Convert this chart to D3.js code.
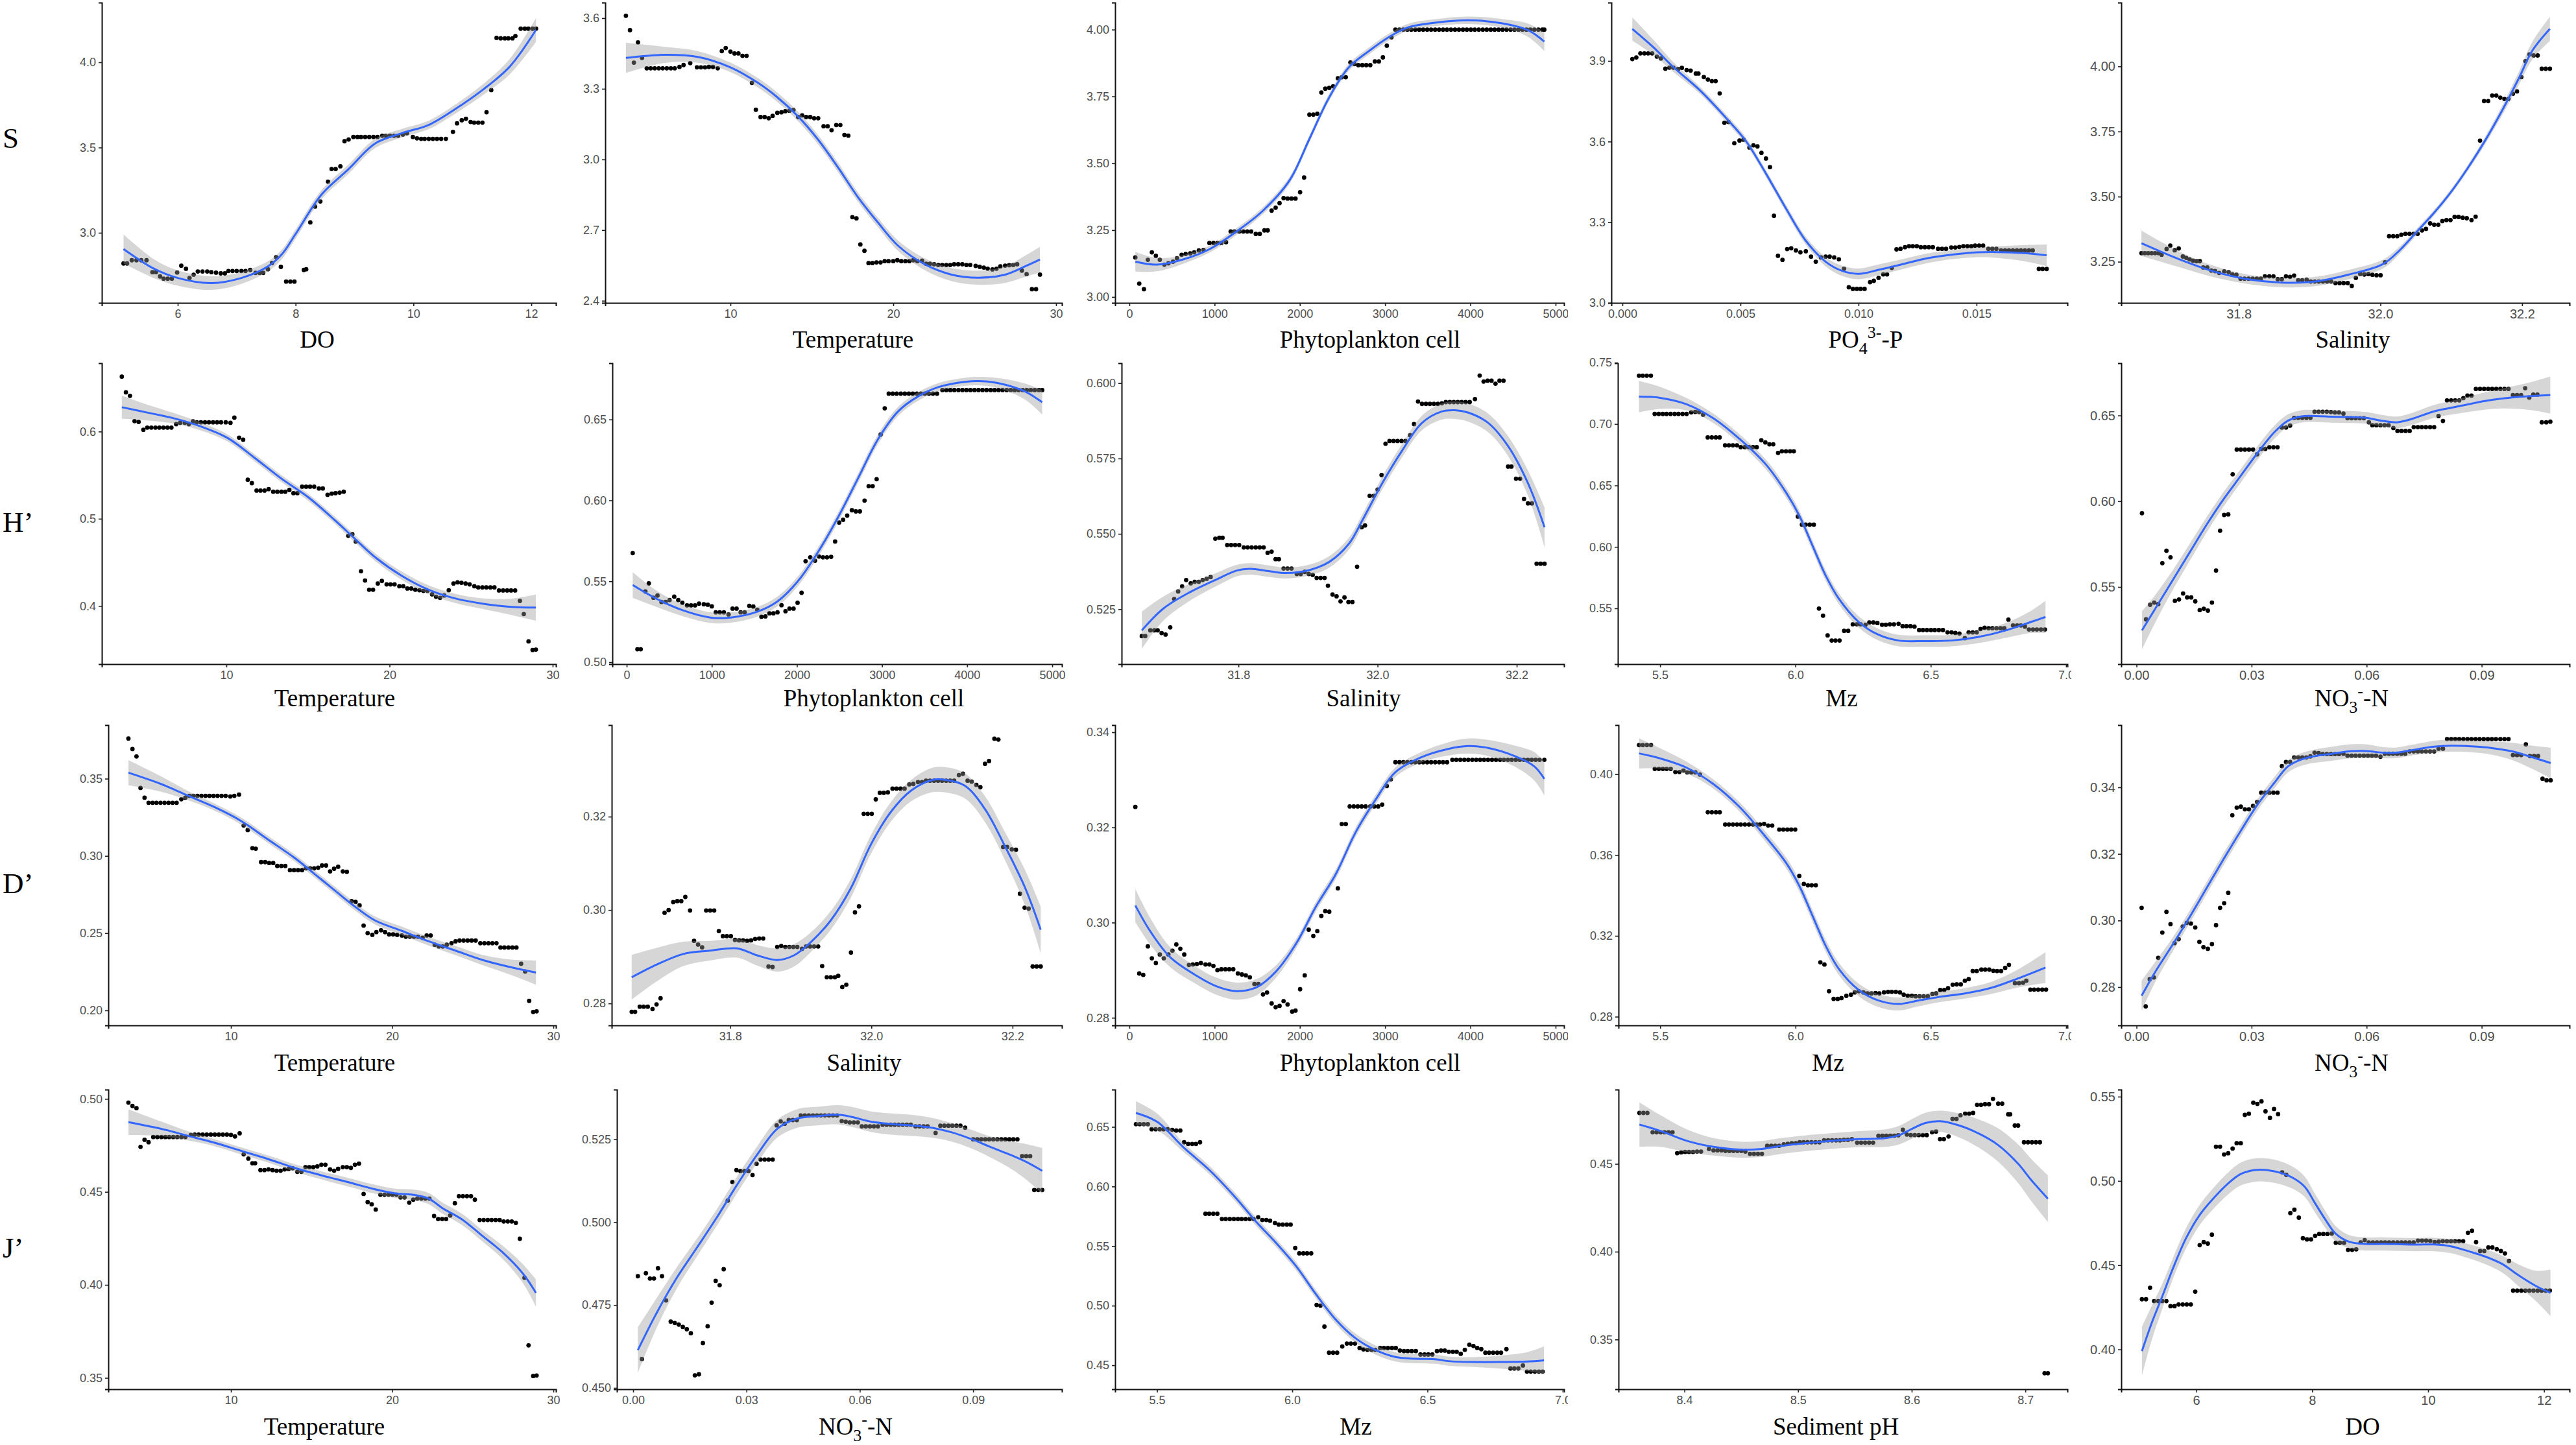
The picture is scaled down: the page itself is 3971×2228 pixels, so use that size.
<!DOCTYPE html>
<html>
<head>
<meta charset="utf-8">
<script src="https://cdn.jsdelivr.net/npm/d3@7"></script>
<style>
  body { margin: 0; background: #fff; }
  svg { display: block; }
  .tick text { font-family: "Liberation Sans", Arial, sans-serif; fill: #4d4d4d; }
  .axis path { stroke: #111; stroke-width: 2; }
  .axis line { stroke: #222; stroke-width: 1.6; }
  .xtitle, .rowlab { font-family: "Liberation Serif", "Times New Roman", serif; fill: #000; }
</style>
</head>
<body>
<div id="chart"></div>
<script>
// ---------- data: S (row 1) ----------
const s_do = [[5.08,2.82],[5.14,2.82],[5.22,2.839],[5.30,2.839],[5.38,2.839],[5.47,2.839],[5.57,2.769],[5.63,2.769],[5.70,2.744],[5.76,2.731],[5.83,2.731],[5.90,2.731],[5.99,2.767],[6.06,2.807],[6.14,2.789],[6.20,2.735],[6.27,2.754],[6.34,2.773],[6.42,2.773],[6.50,2.773],[6.57,2.769],[6.65,2.766],[6.73,2.762],[6.80,2.762],[6.86,2.776],[6.93,2.776],[7.00,2.776],[7.08,2.776],[7.15,2.776],[7.23,2.782],[7.32,2.765],[7.39,2.765],[7.45,2.765],[7.53,2.786],[7.60,2.823],[7.67,2.857],[7.75,2.80],[7.84,2.714],[7.91,2.714],[7.98,2.714],[8.14,2.782],[8.18,2.786],[8.25,3.061],[8.33,3.154],[8.42,3.184],[8.55,3.30],[8.61,3.374],[8.68,3.374],[8.76,3.39],[8.83,3.537],[8.90,3.547],[8.98,3.562],[9.05,3.562],[9.11,3.562],[9.18,3.562],[9.25,3.562],[9.32,3.562],[9.39,3.562],[9.47,3.569],[9.53,3.569],[9.60,3.569],[9.67,3.569],[9.74,3.569],[9.82,3.576],[9.89,3.584],[9.99,3.562],[10.06,3.554],[10.13,3.551],[10.19,3.551],[10.26,3.551],[10.33,3.551],[10.40,3.551],[10.47,3.551],[10.55,3.551],[10.67,3.592],[10.74,3.642],[10.82,3.66],[10.89,3.669],[10.97,3.65],[11.03,3.646],[11.10,3.646],[11.17,3.646],[11.24,3.707],[11.32,3.837],[11.41,4.143],[11.48,4.14],[11.55,4.14],[11.61,4.14],[11.68,4.14],[11.73,4.154],[11.82,4.197],[11.89,4.197],[11.95,4.197],[12.02,4.197],[12.08,4.197]];
const s_do_fit = [[5.08,2.905,0.085],[5.6,2.789,0.055],[6.0,2.735,0.045],[6.57,2.705,0.04],[7.08,2.735,0.035],[7.53,2.803,0.03],[7.76,2.871,0.028],[8.0,2.993,0.027],[8.44,3.224,0.027],[8.9,3.374,0.027],[9.35,3.524,0.027],[9.81,3.585,0.025],[10.26,3.633,0.025],[10.72,3.728,0.027],[11.17,3.837,0.032],[11.63,3.973,0.045],[12.08,4.19,0.07]];

const s_temp = [[3.58,3.61],[3.83,3.549],[4.07,3.411],[4.32,3.497],[4.57,3.431],[4.86,3.387],[5.10,3.387],[5.35,3.387],[5.60,3.387],[5.84,3.387],[6.09,3.387],[6.34,3.387],[6.58,3.387],[6.87,3.393],[7.12,3.401],[7.53,3.409],[7.94,3.391],[8.19,3.391],[8.44,3.391],[8.68,3.393],[8.93,3.393],[9.22,3.387],[9.47,3.46],[9.71,3.473],[10.0,3.458],[10.25,3.45],[10.49,3.45],[10.74,3.44],[10.99,3.44],[11.32,3.325],[11.56,3.211],[11.85,3.18],[12.10,3.18],[12.35,3.175],[12.59,3.185],[12.88,3.198],[13.13,3.2],[13.37,3.205],[13.62,3.207],[13.87,3.21],[14.16,3.18],[14.40,3.187],[14.65,3.18],[14.90,3.18],[15.14,3.175],[15.39,3.175],[15.72,3.141],[15.97,3.141],[16.21,3.124],[16.5,3.146],[16.75,3.146],[17.0,3.104],[17.24,3.101],[17.49,2.755],[17.74,2.75],[17.98,2.639],[18.23,2.612],[18.48,2.56],[18.72,2.56],[18.97,2.563],[19.22,2.563],[19.47,2.568],[19.71,2.568],[20.0,2.568],[20.25,2.572],[20.49,2.568],[20.74,2.568],[20.99,2.568],[21.23,2.572],[21.48,2.568],[21.77,2.57],[22.02,2.557],[22.26,2.557],[22.51,2.555],[22.76,2.552],[23.0,2.552],[23.25,2.552],[23.5,2.552],[23.74,2.555],[23.99,2.555],[24.24,2.555],[24.49,2.552],[24.73,2.552],[25.06,2.548],[25.31,2.544],[25.56,2.541],[25.8,2.536],[26.09,2.533],[26.34,2.536],[26.58,2.546],[26.87,2.549],[27.12,2.551],[27.37,2.552],[27.61,2.555],[27.9,2.528],[28.19,2.513],[28.52,2.449],[28.77,2.449],[29.01,2.511]];
const s_temp_fit = [[3.58,3.431,0.064],[5.88,3.444,0.035],[7.94,3.436,0.025],[10.0,3.391,0.02],[11.65,3.327,0.02],[12.88,3.264,0.02],[14.12,3.185,0.02],[15.35,3.087,0.02],[16.58,2.969,0.02],[17.82,2.841,0.02],[19.05,2.733,0.02],[20.29,2.634,0.022],[21.93,2.555,0.025],[23.58,2.511,0.028],[25.23,2.498,0.03],[26.87,2.511,0.035],[28.1,2.546,0.045],[29.01,2.575,0.054]];

const s_phyto = [[70,3.148],[116,3.05],[171,3.029],[217,3.139],[264,3.167],[311,3.154],[357,3.139],[411,3.121],[458,3.126],[512,3.132],[559,3.145],[613,3.158],[660,3.161],[714,3.163],[761,3.167],[815,3.174],[870,3.176],[939,3.202],[986,3.202],[1033,3.202],[1079,3.202],[1134,3.205],[1188,3.245],[1234,3.245],[1289,3.245],[1335,3.245],[1382,3.245],[1429,3.245],[1483,3.236],[1530,3.236],[1584,3.249],[1623,3.249],[1669,3.323],[1716,3.334],[1762,3.351],[1809,3.37],[1856,3.368],[1902,3.368],[1949,3.368],[2003,3.392],[2050,3.447],[2112,3.682],[2158,3.682],[2205,3.685],[2252,3.765],[2298,3.779],[2345,3.782],[2391,3.788],[2446,3.818],[2492,3.822],[2539,3.822],[2593,3.877],[2640,3.871],[2686,3.867],[2733,3.867],[2779,3.867],[2826,3.867],[2880,3.881],[2927,3.881],[2974,3.896],[3020,3.94],[3075,3.971],[3121,4.0],[3168,4.0],[3214,4.0],[3261,4.0],[3307,4.0],[3354,4.0],[3400,4.0],[3447,4.0],[3494,4.0],[3540,4.0],[3587,4.0],[3633,4.0],[3680,4.0],[3726,4.0],[3773,4.0],[3820,4.0],[3866,4.0],[3913,4.0],[3959,4.0],[4006,4.0],[4052,4.0],[4099,4.0],[4146,4.0],[4192,4.0],[4239,4.0],[4285,4.0],[4332,4.0],[4378,4.0],[4425,4.0],[4472,4.0],[4518,4.0],[4565,4.0],[4611,4.0],[4658,4.0],[4704,4.0],[4751,4.0],[4798,4.0],[4844,4.0],[4868,4.0]];
const s_phyto_fit = [[70,3.132,0.037],[326,3.121,0.025],[637,3.141,0.016],[947,3.18,0.013],[1258,3.245,0.013],[1568,3.323,0.013],[1879,3.436,0.013],[2112,3.591,0.013],[2345,3.747,0.013],[2578,3.86,0.013],[2811,3.92,0.013],[3044,3.972,0.013],[3276,4.009,0.013],[3587,4.026,0.013],[3975,4.035,0.014],[4363,4.024,0.016],[4674,3.998,0.025],[4868,3.955,0.035]];

const s_po4 = [[0.00042,3.907],[0.00059,3.913],[0.00076,3.928],[0.00093,3.928],[0.00109,3.928],[0.00126,3.928],[0.00146,3.916],[0.00163,3.909],[0.00182,3.871],[0.00199,3.875],[0.00216,3.875],[0.00236,3.87],[0.00252,3.874],[0.00272,3.866],[0.00289,3.864],[0.00311,3.853],[0.00322,3.853],[0.00345,3.84],[0.00362,3.831],[0.00379,3.825],[0.00395,3.825],[0.00412,3.779],[0.00432,3.67],[0.00449,3.673],[0.00474,3.594],[0.00496,3.604],[0.00513,3.607],[0.00538,3.578],[0.00555,3.586],[0.00572,3.582],[0.00589,3.558],[0.00608,3.537],[0.00625,3.505],[0.00642,3.324],[0.00659,3.175],[0.00678,3.16],[0.00698,3.2],[0.00715,3.203],[0.00735,3.195],[0.00754,3.188],[0.00777,3.192],[0.00799,3.172],[0.00819,3.153],[0.00841,3.169],[0.00861,3.172],[0.00878,3.172],[0.00897,3.169],[0.00917,3.162],[0.00939,3.127],[0.00959,3.058],[0.00976,3.052],[0.00993,3.052],[0.01009,3.052],[0.01026,3.052],[0.01049,3.077],[0.01065,3.082],[0.01085,3.093],[0.01105,3.106],[0.01121,3.106],[0.01141,3.13],[0.01161,3.199],[0.01178,3.201],[0.01197,3.207],[0.01214,3.211],[0.0123,3.211],[0.01247,3.211],[0.01264,3.207],[0.01281,3.207],[0.01298,3.207],[0.01315,3.207],[0.01337,3.201],[0.01354,3.201],[0.01371,3.201],[0.01393,3.206],[0.0141,3.206],[0.01427,3.208],[0.01444,3.211],[0.01461,3.211],[0.01478,3.211],[0.01494,3.213],[0.01511,3.213],[0.01528,3.213],[0.0155,3.201],[0.01567,3.201],[0.01584,3.201],[0.01604,3.195],[0.01621,3.195],[0.01637,3.195],[0.01654,3.195],[0.01671,3.195],[0.01688,3.195],[0.01705,3.195],[0.01722,3.195],[0.01738,3.195],[0.01764,3.126],[0.0178,3.126],[0.01797,3.126]];
const s_po4_fit = [[0.00042,4.019,0.043],[0.00132,3.95,0.028],[0.00216,3.877,0.018],[0.00328,3.791,0.013],[0.0044,3.687,0.013],[0.00524,3.601,0.013],[0.00608,3.481,0.013],[0.00693,3.351,0.014],[0.00777,3.231,0.015],[0.00861,3.153,0.017],[0.00931,3.119,0.019],[0.01001,3.108,0.02],[0.01085,3.123,0.02],[0.01169,3.14,0.019],[0.01281,3.164,0.018],[0.01393,3.179,0.017],[0.01506,3.188,0.018],[0.0159,3.189,0.022],[0.01702,3.185,0.03],[0.01797,3.177,0.04]];

const s_sal = [[31.6625,3.283],[31.6673,3.283],[31.672,3.283],[31.6769,3.283],[31.6817,3.283],[31.6865,3.283],[31.691,3.277],[31.698,3.299],[31.7032,3.312],[31.7095,3.294],[31.7152,3.301],[31.721,3.27],[31.7257,3.265],[31.7305,3.259],[31.7353,3.254],[31.74,3.252],[31.7449,3.252],[31.7497,3.228],[31.7554,3.228],[31.7612,3.216],[31.7665,3.214],[31.7722,3.207],[31.7794,3.213],[31.7856,3.21],[31.7909,3.201],[31.7966,3.2],[31.8024,3.185],[31.8081,3.185],[31.8139,3.185],[31.8196,3.185],[31.8254,3.185],[31.8311,3.185],[31.8369,3.194],[31.8431,3.194],[31.8489,3.194],[31.855,3.183],[31.8608,3.183],[31.8666,3.194],[31.8723,3.192],[31.8781,3.197],[31.8838,3.179],[31.8896,3.179],[31.8958,3.181],[31.9016,3.174],[31.9073,3.174],[31.913,3.174],[31.9188,3.174],[31.9246,3.174],[31.9303,3.174],[31.9365,3.168],[31.9423,3.168],[31.948,3.168],[31.9538,3.168],[31.9595,3.157],[31.9653,3.188],[31.9715,3.203],[31.9772,3.201],[31.983,3.203],[31.9887,3.2],[31.9945,3.198],[32.0002,3.198],[32.0065,3.248],[32.0122,3.348],[32.018,3.348],[32.0237,3.348],[32.0295,3.354],[32.0352,3.357],[32.041,3.357],[32.0467,3.357],[32.0525,3.357],[32.0587,3.37],[32.0644,3.376],[32.0702,3.397],[32.0759,3.392],[32.0817,3.392],[32.0874,3.406],[32.0932,3.41],[32.0989,3.41],[32.1047,3.422],[32.1104,3.422],[32.1162,3.419],[32.1219,3.417],[32.1286,3.41],[32.1344,3.423],[32.1406,3.715],[32.1463,3.867],[32.1521,3.867],[32.1578,3.888],[32.1636,3.888],[32.1693,3.88],[32.1751,3.875],[32.1808,3.875],[32.1871,3.895],[32.1928,3.904],[32.199,3.959],[32.2048,4.02],[32.2105,4.046],[32.2163,4.042],[32.222,4.042],[32.2278,3.991],[32.2335,3.991],[32.2393,3.991]];
const s_sal_fit = [[31.6625,3.321,0.049],[31.7162,3.259,0.03],[31.764,3.213,0.022],[31.812,3.183,0.018],[31.8599,3.17,0.018],[31.9078,3.174,0.018],[31.9557,3.201,0.018],[32.0036,3.241,0.017],[32.0275,3.295,0.014],[32.0515,3.366,0.012],[32.0754,3.437,0.011],[32.0994,3.517,0.011],[32.1234,3.61,0.012],[32.1473,3.713,0.014],[32.1713,3.828,0.018],[32.1952,3.953,0.025],[32.2144,4.06,0.034],[32.2393,4.144,0.046]];

// ---------- data: H' (row 2) ----------
const h_temp = [[3.59,0.663],[3.84,0.645],[4.09,0.641],[4.37,0.612],[4.62,0.611],[4.91,0.602],[5.15,0.6045],[5.40,0.6045],[5.65,0.6045],[5.89,0.6045],[6.14,0.6045],[6.39,0.6045],[6.63,0.6045],[6.92,0.6085],[7.17,0.61],[7.45,0.61],[7.70,0.6085],[7.95,0.6117],[8.19,0.6106],[8.44,0.6106],[8.69,0.6106],[8.93,0.6106],[9.18,0.6106],[9.43,0.6106],[9.67,0.6106],[9.96,0.6106],[10.25,0.61],[10.49,0.616],[10.78,0.593],[11.03,0.5907],[11.31,0.5448],[11.56,0.5408],[11.85,0.5323],[12.09,0.5323],[12.34,0.5323],[12.59,0.534],[12.87,0.531],[13.12,0.531],[13.37,0.531],[13.61,0.531],[13.86,0.533],[14.11,0.5293],[14.35,0.5293],[14.64,0.5368],[14.89,0.5368],[15.13,0.5368],[15.38,0.5368],[15.67,0.5347],[15.91,0.5347],[16.2,0.5275],[16.45,0.5288],[16.69,0.5293],[16.94,0.53],[17.19,0.531],[17.47,0.4805],[17.72,0.4823],[17.93,0.4738],[18.25,0.4398],[18.5,0.4292],[18.75,0.4186],[18.99,0.4186],[19.28,0.4258],[19.53,0.4287],[19.82,0.4247],[20.06,0.4247],[20.31,0.4247],[20.6,0.4226],[20.84,0.4226],[21.09,0.42],[21.33,0.42],[21.58,0.4186],[21.83,0.418],[22.07,0.4173],[22.32,0.4173],[22.61,0.4133],[22.85,0.4106],[23.10,0.4093],[23.35,0.412],[23.63,0.418],[23.92,0.4258],[24.17,0.4271],[24.41,0.4266],[24.66,0.4258],[24.91,0.4247],[25.2,0.4226],[25.44,0.4213],[25.69,0.4213],[25.93,0.4213],[26.18,0.4213],[26.43,0.4213],[26.71,0.4178],[26.96,0.4178],[27.21,0.4178],[27.45,0.4178],[27.7,0.4178],[27.99,0.4058],[28.23,0.3907],[28.52,0.3594],[28.77,0.3495],[28.97,0.35]];
const h_temp_fit = [[3.59,0.6279,0.0133],[5.15,0.6218,0.009],[6.8,0.6151,0.006],[8.44,0.6058,0.0045],[10.08,0.5926,0.004],[11.72,0.57,0.004],[13.37,0.5461,0.004],[15.01,0.5248,0.004],[16.65,0.4983,0.004],[17.88,0.477,0.0042],[19.12,0.4558,0.0045],[20.76,0.4345,0.0047],[22.4,0.4186,0.005],[24.05,0.4085,0.0053],[25.69,0.4027,0.006],[27.33,0.3992,0.009],[28.97,0.3981,0.015]];

const h_phyto = [[71,0.5674],[126,0.508],[165,0.508],[220,0.5437],[260,0.5487],[315,0.5398],[362,0.5412],[409,0.5372],[457,0.5372],[504,0.5384],[559,0.5405],[606,0.5384],[654,0.5367],[709,0.5351],[756,0.5351],[803,0.5351],[850,0.5362],[906,0.5358],[953,0.5355],[1000,0.5345],[1047,0.5308],[1094,0.5308],[1142,0.5308],[1197,0.5295],[1244,0.5331],[1291,0.5331],[1339,0.5308],[1386,0.5308],[1441,0.5348],[1488,0.5344],[1535,0.5324],[1583,0.5281],[1630,0.5283],[1677,0.5302],[1724,0.5302],[1772,0.5308],[1819,0.5352],[1866,0.5315],[1913,0.5331],[1961,0.5331],[2008,0.5367],[2055,0.5429],[2102,0.5624],[2157,0.5648],[2213,0.5627],[2260,0.5653],[2307,0.5648],[2354,0.5648],[2402,0.5651],[2449,0.5746],[2496,0.5863],[2543,0.588],[2591,0.5906],[2646,0.5939],[2693,0.5932],[2740,0.5932],[2795,0.5999],[2843,0.6088],[2890,0.6088],[2937,0.6131],[2984,0.6407],[3032,0.6569],[3079,0.666],[3126,0.666],[3173,0.666],[3221,0.666],[3268,0.666],[3315,0.666],[3362,0.666],[3410,0.666],[3457,0.666],[3504,0.666],[3551,0.666],[3598,0.666],[3646,0.666],[3709,0.6682],[3756,0.6682],[3803,0.6682],[3850,0.6682],[3898,0.6682],[3945,0.6682],[3992,0.6682],[4039,0.6682],[4087,0.6682],[4134,0.6682],[4181,0.6682],[4228,0.6682],[4276,0.6682],[4323,0.6682],[4370,0.6682],[4417,0.6682],[4465,0.6682],[4512,0.6682],[4559,0.6682],[4606,0.6682],[4654,0.6682],[4701,0.6682],[4748,0.6682],[4795,0.6682],[4843,0.6682],[4882,0.6682]];
const h_phyto_fit = [[71,0.5477,0.0079],[354,0.5391,0.005],[669,0.5319,0.0036],[984,0.5276,0.0033],[1220,0.5276,0.0032],[1535,0.5312,0.003],[1772,0.5376,0.003],[2008,0.5498,0.003],[2244,0.5677,0.003],[2480,0.5892,0.003],[2717,0.6135,0.003],[2953,0.6378,0.003],[3189,0.655,0.0028],[3425,0.6643,0.0026],[3661,0.67,0.0025],[3976,0.6733,0.0025],[4213,0.6736,0.0027],[4449,0.6715,0.0035],[4685,0.6672,0.005],[4882,0.6607,0.0075]];

const h_sal = [[31.661,0.5161],[31.666,0.5161],[31.6733,0.518],[31.679,0.518],[31.6838,0.518],[31.6895,0.5171],[31.6952,0.5166],[31.7019,0.519],[31.7076,0.5284],[31.7133,0.5309],[31.719,0.5326],[31.7248,0.5347],[31.7314,0.5336],[31.7371,0.5341],[31.7429,0.5341],[31.7486,0.5347],[31.7543,0.5351],[31.76,0.5357],[31.7667,0.5484],[31.7724,0.5487],[31.7771,0.5487],[31.7838,0.5463],[31.7895,0.5463],[31.7952,0.5463],[31.801,0.5463],[31.8076,0.5455],[31.8133,0.5455],[31.819,0.5455],[31.8248,0.5455],[31.8305,0.5455],[31.8362,0.5455],[31.8419,0.5437],[31.8476,0.5441],[31.8533,0.5416],[31.8581,0.5416],[31.8648,0.5385],[31.8705,0.5385],[31.8762,0.5385],[31.8838,0.5367],[31.8895,0.5367],[31.8952,0.5374],[31.901,0.5367],[31.9067,0.5364],[31.9124,0.5354],[31.9181,0.5354],[31.9238,0.5354],[31.9286,0.5328],[31.9352,0.5299],[31.941,0.5293],[31.9467,0.5276],[31.9524,0.5289],[31.9581,0.5274],[31.9638,0.5274],[31.9705,0.5391],[31.9771,0.5522],[31.9819,0.5528],[31.9886,0.5626],[31.9943,0.5626],[32.0,0.5647],[32.0057,0.5695],[32.0114,0.5799],[32.0171,0.5808],[32.0229,0.5808],[32.0286,0.5808],[32.0343,0.5808],[32.04,0.5808],[32.0467,0.5827],[32.0524,0.5864],[32.0581,0.5939],[32.0638,0.5931],[32.0695,0.5931],[32.0752,0.5931],[32.081,0.5931],[32.0867,0.5931],[32.0924,0.5933],[32.0981,0.5937],[32.1038,0.5937],[32.1095,0.5937],[32.1152,0.5937],[32.121,0.5937],[32.1267,0.5937],[32.1324,0.5937],[32.14,0.5947],[32.1467,0.6025],[32.1524,0.6005],[32.1581,0.6008],[32.1638,0.6008],[32.1695,0.5998],[32.1752,0.6008],[32.181,0.6008],[32.1876,0.5723],[32.1924,0.5723],[32.199,0.5683],[32.2048,0.5683],[32.2105,0.5616],[32.2162,0.5601],[32.2219,0.5601],[32.2286,0.5401],[32.2343,0.5401],[32.24,0.5401]];
const h_sal_fit = [[31.661,0.518,0.0062],[31.6924,0.5253,0.004],[31.7305,0.5307,0.0028],[31.7686,0.5349,0.0022],[31.7971,0.5378,0.0019],[31.8162,0.5384,0.0019],[31.8448,0.5376,0.0019],[31.8686,0.537,0.0018],[31.9019,0.538,0.0018],[31.9305,0.5407,0.0019],[31.959,0.5468,0.002],[31.9781,0.5545,0.002],[32.0067,0.5668,0.0021],[32.0352,0.5776,0.0022],[32.0638,0.5868,0.0024],[32.0924,0.5906,0.0027],[32.1114,0.591,0.0029],[32.1305,0.5902,0.003],[32.159,0.5868,0.0031],[32.1876,0.5791,0.0033],[32.2162,0.5668,0.0042],[32.24,0.5522,0.0065]];

const h_mz = [[5.422,0.7393],[5.436,0.7393],[5.451,0.7393],[5.466,0.7393],[5.48,0.7082],[5.495,0.7082],[5.51,0.7082],[5.524,0.7082],[5.539,0.7082],[5.554,0.7082],[5.568,0.7082],[5.583,0.7082],[5.598,0.7082],[5.615,0.7095],[5.63,0.7098],[5.644,0.7098],[5.659,0.7076],[5.676,0.6891],[5.691,0.6891],[5.706,0.6891],[5.72,0.6891],[5.74,0.6827],[5.754,0.6827],[5.769,0.6827],[5.784,0.6827],[5.798,0.6812],[5.813,0.6812],[5.828,0.6812],[5.843,0.6812],[5.857,0.6812],[5.874,0.6868],[5.889,0.685],[5.904,0.6835],[5.918,0.6835],[5.936,0.6765],[5.95,0.6778],[5.965,0.6778],[5.98,0.6778],[5.994,0.6778],[6.009,0.6247],[6.024,0.6181],[6.038,0.6181],[6.053,0.6181],[6.068,0.6181],[6.087,0.5498],[6.102,0.544],[6.119,0.528],[6.134,0.5238],[6.148,0.5238],[6.163,0.5238],[6.18,0.5317],[6.195,0.5317],[6.212,0.537],[6.227,0.537],[6.241,0.537],[6.259,0.5366],[6.273,0.5385],[6.288,0.5385],[6.303,0.538],[6.32,0.5366],[6.334,0.5366],[6.349,0.537],[6.364,0.537],[6.381,0.5374],[6.396,0.5355],[6.41,0.5355],[6.425,0.5355],[6.44,0.5351],[6.457,0.5323],[6.471,0.5323],[6.486,0.5323],[6.501,0.5323],[6.515,0.5323],[6.53,0.5323],[6.545,0.5323],[6.562,0.5304],[6.577,0.5304],[6.591,0.53],[6.606,0.5295],[6.626,0.5257],[6.64,0.5304],[6.655,0.5304],[6.67,0.5304],[6.684,0.5332],[6.699,0.5342],[6.714,0.5338],[6.728,0.5338],[6.743,0.5338],[6.758,0.5338],[6.772,0.5338],[6.787,0.5408],[6.804,0.5361],[6.819,0.5361],[6.833,0.5361],[6.848,0.5351],[6.863,0.5328],[6.878,0.5328],[6.892,0.5328],[6.907,0.5328],[6.922,0.5328]];
const h_mz_fit = [[5.422,0.7223,0.0128],[5.5,0.7213,0.009],[5.598,0.7161,0.005],[5.696,0.7048,0.0038],[5.794,0.6878,0.0038],[5.891,0.6671,0.004],[5.965,0.6444,0.0042],[6.014,0.6256,0.0042],[6.063,0.6011,0.0042],[6.112,0.5766,0.0043],[6.161,0.5577,0.0044],[6.234,0.5389,0.0046],[6.307,0.5285,0.0047],[6.381,0.5238,0.0047],[6.479,0.5234,0.0047],[6.577,0.5238,0.0047],[6.674,0.5266,0.005],[6.772,0.5317,0.006],[6.87,0.5389,0.009],[6.924,0.543,0.0132]];

const h_no3 = [[0.00142,0.593],[0.00248,0.5311],[0.00354,0.5396],[0.00461,0.5409],[0.00567,0.54],[0.00673,0.5639],[0.0078,0.5711],[0.00886,0.5673],[0.01001,0.5419],[0.01107,0.5427],[0.01214,0.5462],[0.0132,0.5439],[0.01426,0.5439],[0.01532,0.5416],[0.01648,0.5365],[0.01754,0.5373],[0.0186,0.5362],[0.01967,0.5409],[0.02073,0.5596],[0.02179,0.5828],[0.02285,0.592],[0.02392,0.5923],[0.02507,0.6157],[0.02613,0.6301],[0.0272,0.6301],[0.02826,0.6301],[0.02932,0.6301],[0.03038,0.6301],[0.03145,0.6274],[0.03251,0.6305],[0.03357,0.6305],[0.03464,0.6315],[0.0357,0.6315],[0.03676,0.6315],[0.03791,0.643],[0.03898,0.643],[0.04004,0.6441],[0.0411,0.6486],[0.04216,0.6486],[0.04323,0.6486],[0.04429,0.6486],[0.04535,0.6486],[0.04642,0.6522],[0.04748,0.6522],[0.04854,0.6522],[0.04961,0.6522],[0.05067,0.652],[0.05173,0.6518],[0.0528,0.6518],[0.05395,0.6511],[0.05501,0.6484],[0.05607,0.6484],[0.05714,0.6484],[0.0582,0.6484],[0.05926,0.6484],[0.06059,0.646],[0.06148,0.6443],[0.06254,0.6443],[0.0636,0.6443],[0.06467,0.6443],[0.06573,0.6443],[0.06697,0.6427],[0.06803,0.641],[0.06909,0.641],[0.07016,0.641],[0.07122,0.641],[0.07228,0.6432],[0.07335,0.6432],[0.07441,0.6432],[0.07547,0.6432],[0.07654,0.6432],[0.0776,0.6432],[0.07875,0.6497],[0.0799,0.6468],[0.08096,0.6588],[0.08203,0.6588],[0.08309,0.6588],[0.08415,0.6588],[0.08522,0.6601],[0.08628,0.6616],[0.08734,0.6616],[0.08849,0.6655],[0.08956,0.6655],[0.09062,0.6655],[0.09168,0.6655],[0.09274,0.6655],[0.09381,0.6655],[0.09487,0.6655],[0.09593,0.6655],[0.097,0.6655],[0.09815,0.6619],[0.09921,0.6619],[0.10028,0.6619],[0.10134,0.6659],[0.1024,0.6605],[0.10346,0.6622],[0.10453,0.6622],[0.10568,0.646],[0.10683,0.646],[0.10789,0.6464]];
const h_no3_fit = [[0.00142,0.5247,0.0111],[0.00496,0.5376,0.008],[0.00939,0.5538,0.0058],[0.01382,0.57,0.005],[0.01825,0.5862,0.0045],[0.02268,0.6011,0.0042],[0.02711,0.6146,0.004],[0.03154,0.6281,0.004],[0.03596,0.6403,0.0038],[0.0395,0.647,0.0037],[0.04305,0.6495,0.0036],[0.04659,0.6497,0.0035],[0.05102,0.6493,0.0035],[0.05545,0.6491,0.0035],[0.05988,0.6486,0.0034],[0.06431,0.6468,0.0034],[0.06785,0.646,0.0034],[0.0714,0.6477,0.0035],[0.0776,0.6524,0.0038],[0.08203,0.6545,0.004],[0.08646,0.6565,0.0045],[0.09089,0.6585,0.005],[0.09531,0.6599,0.0058],[0.09974,0.6608,0.007],[0.10417,0.6615,0.0088],[0.10789,0.6619,0.0108]];

// ---------- data: D' (row 3) ----------
const d_temp = [[3.64,0.376],[3.89,0.3692],[4.14,0.3644],[4.39,0.344],[4.64,0.3377],[4.89,0.3344],[5.14,0.3344],[5.38,0.3344],[5.63,0.3344],[5.88,0.3344],[6.13,0.3344],[6.38,0.3344],[6.63,0.3344],[6.92,0.3367],[7.17,0.3377],[7.42,0.3389],[7.67,0.3389],[7.92,0.3389],[8.17,0.3389],[8.42,0.3389],[8.67,0.3389],[8.92,0.3389],[9.17,0.3389],[9.42,0.3389],[9.67,0.3389],[9.96,0.3385],[10.21,0.3389],[10.5,0.3397],[10.79,0.3197],[11.04,0.3167],[11.33,0.305],[11.54,0.3047],[11.87,0.296],[12.12,0.296],[12.37,0.2954],[12.62,0.2954],[12.87,0.2935],[13.12,0.2935],[13.37,0.2935],[13.66,0.2908],[13.91,0.2908],[14.16,0.2908],[14.41,0.2908],[14.66,0.292],[14.91,0.292],[15.16,0.292],[15.41,0.2924],[15.65,0.2938],[15.9,0.2938],[16.15,0.29],[16.4,0.2917],[16.65,0.293],[16.94,0.29],[17.19,0.2897],[17.48,0.2707],[17.73,0.2702],[17.98,0.268],[18.23,0.2549],[18.48,0.25],[18.77,0.2489],[19.02,0.2507],[19.31,0.2519],[19.56,0.2507],[19.81,0.2492],[20.06,0.2492],[20.31,0.2489],[20.6,0.2485],[20.85,0.2477],[21.1,0.2477],[21.35,0.2477],[21.6,0.2477],[21.89,0.247],[22.14,0.2485],[22.39,0.2485],[22.64,0.2425],[22.89,0.2414],[23.14,0.2414],[23.39,0.2425],[23.68,0.2435],[23.93,0.2447],[24.18,0.2452],[24.43,0.2452],[24.68,0.2452],[24.93,0.2452],[25.18,0.2452],[25.47,0.2435],[25.72,0.2435],[25.97,0.2435],[26.22,0.2435],[26.47,0.2435],[26.72,0.2407],[26.96,0.2407],[27.21,0.2407],[27.46,0.2407],[27.71,0.2407],[28.0,0.2302],[28.25,0.2252],[28.5,0.2062],[28.75,0.199],[28.96,0.1994]];
const d_temp_fit = [[3.64,0.3539,0.0081],[5.63,0.3467,0.005],[7.3,0.3392,0.003],[8.96,0.3317,0.0023],[10.62,0.3227,0.0023],[12.29,0.3107,0.0023],[13.95,0.2987,0.0023],[15.2,0.2882,0.0023],[16.44,0.2777,0.0024],[17.69,0.2672,0.0025],[18.94,0.2582,0.0026],[20.6,0.2515,0.0027],[22.27,0.2447,0.0028],[23.93,0.2387,0.003],[25.59,0.2327,0.0033],[27.26,0.2282,0.0048],[28.92,0.2245,0.0078]];

const d_sal = [[31.6603,0.2782],[31.6651,0.2782],[31.6717,0.2793],[31.6774,0.2793],[31.6831,0.2793],[31.6898,0.2788],[31.6955,0.2798],[31.7012,0.2811],[31.7069,0.2994],[31.7126,0.3],[31.7192,0.3017],[31.7249,0.3019],[31.7306,0.3019],[31.7363,0.3028],[31.743,0.2999],[31.7487,0.2934],[31.7544,0.2926],[31.7601,0.292],[31.7658,0.2999],[31.7715,0.2999],[31.7772,0.2999],[31.7838,0.2955],[31.7895,0.2944],[31.7952,0.2944],[31.8009,0.2944],[31.8067,0.2936],[31.8124,0.2935],[31.8181,0.2935],[31.8238,0.2934],[31.8295,0.2935],[31.8352,0.2938],[31.8409,0.2939],[31.8466,0.2939],[31.8542,0.2879],[31.8599,0.2878],[31.8665,0.2921],[31.8722,0.2923],[31.8779,0.2921],[31.8836,0.2921],[31.8893,0.2921],[31.895,0.2921],[31.9017,0.2917],[31.9074,0.2922],[31.9131,0.2922],[31.9188,0.2922],[31.9245,0.2922],[31.9302,0.288],[31.9368,0.2856],[31.9425,0.2856],[31.9482,0.2856],[31.953,0.2859],[31.9587,0.2835],[31.9644,0.284],[31.971,0.2909],[31.9767,0.2995],[31.9824,0.3008],[31.9891,0.3206],[31.9948,0.3206],[32.0005,0.3206],[32.0062,0.3237],[32.0119,0.3251],[32.0176,0.3251],[32.0233,0.3252],[32.0299,0.326],[32.0356,0.326],[32.0413,0.326],[32.047,0.326],[32.0537,0.3269],[32.0594,0.327],[32.066,0.3274],[32.0717,0.3274],[32.0774,0.3277],[32.0831,0.3277],[32.0888,0.3277],[32.0945,0.3277],[32.1002,0.3277],[32.1059,0.3277],[32.1116,0.3277],[32.1173,0.3277],[32.124,0.3289],[32.1297,0.3292],[32.1363,0.3277],[32.142,0.3275],[32.1487,0.3268],[32.1544,0.3263],[32.161,0.3313],[32.1667,0.3319],[32.1743,0.3367],[32.18,0.3365],[32.1867,0.3135],[32.1924,0.3135],[32.199,0.313],[32.2048,0.3129],[32.2105,0.3035],[32.2171,0.3005],[32.2228,0.3003],[32.2285,0.2879],[32.2342,0.2879],[32.2399,0.2879]];
const d_sal_fit = [[31.6603,0.2856,0.0048],[31.6955,0.2883,0.0036],[31.7335,0.2906,0.0026],[31.7715,0.2913,0.0021],[31.8095,0.2918,0.002],[31.838,0.2903,0.0022],[31.8665,0.2893,0.0025],[31.8903,0.2903,0.0024],[31.914,0.2931,0.0021],[31.9425,0.2978,0.002],[31.971,0.3047,0.002],[31.9995,0.3141,0.002],[32.028,0.3211,0.0021],[32.0565,0.3256,0.0023],[32.085,0.3278,0.0026],[32.104,0.3279,0.0027],[32.1325,0.3266,0.0027],[32.161,0.3216,0.0028],[32.1895,0.3136,0.003],[32.218,0.3047,0.0038],[32.2399,0.2958,0.005]];

const d_phyto = [[70,0.3243],[116,0.2893],[163,0.289],[217,0.295],[264,0.2925],[311,0.2915],[357,0.2933],[404,0.2925],[458,0.2933],[505,0.2941],[551,0.2954],[598,0.2945],[644,0.2933],[699,0.2911],[745,0.2912],[792,0.2913],[839,0.2915],[893,0.2912],[939,0.2912],[986,0.2909],[1033,0.29],[1079,0.2902],[1126,0.2902],[1172,0.2902],[1219,0.2902],[1273,0.2893],[1320,0.2891],[1366,0.2889],[1413,0.2885],[1467,0.2871],[1514,0.2871],[1568,0.2849],[1615,0.2853],[1669,0.283],[1716,0.2822],[1762,0.2825],[1809,0.2835],[1856,0.2828],[1910,0.2813],[1949,0.2815],[2003,0.286],[2057,0.2889],[2104,0.2985],[2158,0.2972],[2205,0.2982],[2252,0.3014],[2298,0.3024],[2345,0.3023],[2446,0.3072],[2492,0.3207],[2539,0.3207],[2585,0.3244],[2632,0.3244],[2679,0.3244],[2725,0.3244],[2772,0.3244],[2826,0.3244],[2873,0.3244],[2919,0.3244],[2966,0.3248],[3020,0.3287],[3067,0.3301],[3121,0.3337],[3168,0.3337],[3214,0.3337],[3261,0.3337],[3307,0.3337],[3354,0.3337],[3401,0.3337],[3447,0.3337],[3494,0.3337],[3540,0.3337],[3587,0.3337],[3634,0.3337],[3680,0.3337],[3727,0.3337],[3789,0.3342],[3835,0.3342],[3882,0.3342],[3929,0.3342],[3975,0.3342],[4022,0.3342],[4068,0.3342],[4115,0.3342],[4161,0.3342],[4208,0.3342],[4254,0.3342],[4301,0.3342],[4348,0.3342],[4394,0.3342],[4441,0.3342],[4487,0.3342],[4534,0.3342],[4580,0.3342],[4627,0.3342],[4674,0.3342],[4720,0.3342],[4767,0.3342],[4813,0.3342],[4868,0.3342]];
const d_phyto_fit = [[70,0.3036,0.0035],[248,0.2981,0.0028],[481,0.2927,0.0021],[792,0.2888,0.0018],[1025,0.2866,0.0018],[1258,0.2856,0.0018],[1491,0.2864,0.0017],[1724,0.2898,0.0013],[1957,0.2956,0.001],[2190,0.3034,0.001],[2422,0.3102,0.001],[2655,0.319,0.001],[2888,0.3258,0.001],[3121,0.3316,0.001],[3432,0.3348,0.0011],[3742,0.3365,0.0014],[3975,0.3371,0.0016],[4208,0.3367,0.0017],[4519,0.335,0.0022],[4752,0.3328,0.003],[4868,0.3302,0.0035]];

const d_mz = [[5.422,0.4144],[5.436,0.4144],[5.451,0.4144],[5.466,0.4144],[5.48,0.4026],[5.495,0.4026],[5.51,0.4026],[5.524,0.4026],[5.539,0.4026],[5.556,0.4011],[5.571,0.4011],[5.586,0.4018],[5.6,0.4009],[5.615,0.4009],[5.63,0.4009],[5.647,0.3998],[5.676,0.3812],[5.691,0.3812],[5.706,0.3812],[5.72,0.3812],[5.74,0.3751],[5.754,0.3751],[5.769,0.3751],[5.784,0.3751],[5.798,0.3751],[5.813,0.3751],[5.828,0.3751],[5.843,0.3751],[5.857,0.3751],[5.869,0.3751],[5.884,0.3754],[5.899,0.3746],[5.914,0.3746],[5.94,0.3726],[5.955,0.3726],[5.97,0.3726],[5.984,0.3726],[5.999,0.3726],[6.014,0.3496],[6.031,0.3457],[6.046,0.345],[6.06,0.345],[6.075,0.345],[6.092,0.3069],[6.107,0.3058],[6.124,0.2926],[6.141,0.2888],[6.156,0.2888],[6.17,0.2892],[6.188,0.2903],[6.205,0.2909],[6.219,0.292],[6.234,0.2926],[6.251,0.292],[6.266,0.2915],[6.281,0.2915],[6.296,0.2917],[6.31,0.2915],[6.327,0.292],[6.342,0.2923],[6.356,0.2923],[6.371,0.2923],[6.386,0.292],[6.4,0.2909],[6.415,0.2903],[6.43,0.2903],[6.444,0.2901],[6.459,0.2901],[6.474,0.2901],[6.489,0.2901],[6.506,0.2912],[6.52,0.2915],[6.535,0.2932],[6.55,0.2932],[6.564,0.2941],[6.581,0.2958],[6.596,0.296],[6.611,0.296],[6.626,0.2978],[6.64,0.2986],[6.655,0.3026],[6.67,0.3026],[6.687,0.3033],[6.701,0.3033],[6.716,0.3033],[6.731,0.3027],[6.745,0.3026],[6.76,0.3026],[6.775,0.3041],[6.789,0.3056],[6.811,0.2966],[6.826,0.2966],[6.841,0.2968],[6.853,0.2978],[6.868,0.2934],[6.882,0.2934],[6.897,0.2934],[6.912,0.2934],[6.926,0.2934]];
const d_mz_fit = [[5.422,0.4103,0.0075],[5.5,0.4078,0.005],[5.598,0.4032,0.003],[5.696,0.3952,0.0023],[5.794,0.3837,0.0023],[5.891,0.3688,0.0025],[5.965,0.3562,0.0027],[6.014,0.3448,0.0029],[6.063,0.3299,0.003],[6.112,0.315,0.003],[6.161,0.3035,0.003],[6.234,0.2932,0.0031],[6.307,0.288,0.0032],[6.381,0.2863,0.0032],[6.454,0.288,0.0029],[6.528,0.2897,0.0026],[6.626,0.2915,0.0026],[6.724,0.2943,0.003],[6.822,0.2989,0.0045],[6.924,0.3043,0.0076]];

const d_no3 = [[0.00133,0.3038],[0.00239,0.2742],[0.00345,0.2824],[0.00452,0.2829],[0.00567,0.2888],[0.00673,0.2964],[0.0078,0.3026],[0.00886,0.2989],[0.00992,0.2932],[0.01098,0.2944],[0.01205,0.2982],[0.01311,0.2993],[0.01417,0.2991],[0.01532,0.2979],[0.01639,0.2936],[0.01745,0.292],[0.0186,0.2915],[0.01967,0.2929],[0.02073,0.2986],[0.02179,0.3038],[0.02285,0.3052],[0.02392,0.3083],[0.02498,0.3316],[0.02613,0.3339],[0.0272,0.3342],[0.02826,0.3334],[0.02932,0.3334],[0.03038,0.3344],[0.03145,0.3356],[0.03251,0.3384],[0.03357,0.3384],[0.03464,0.3384],[0.0357,0.3384],[0.03676,0.3384],[0.03791,0.3464],[0.03898,0.3476],[0.04004,0.3476],[0.0411,0.349],[0.04216,0.349],[0.04323,0.349],[0.04429,0.349],[0.04535,0.3493],[0.04642,0.3504],[0.04748,0.3503],[0.04854,0.35],[0.04961,0.35],[0.05067,0.35],[0.05173,0.35],[0.0528,0.35],[0.05395,0.3501],[0.05501,0.3495],[0.05607,0.3495],[0.05714,0.3495],[0.0582,0.3495],[0.05926,0.3495],[0.06032,0.3495],[0.06139,0.3495],[0.06245,0.3495],[0.0636,0.3492],[0.06475,0.3501],[0.06582,0.3501],[0.06688,0.3501],[0.06794,0.3501],[0.06901,0.3501],[0.07007,0.3501],[0.07122,0.3508],[0.07228,0.3508],[0.07335,0.3508],[0.07441,0.3508],[0.07547,0.3508],[0.07654,0.3508],[0.0776,0.3508],[0.07875,0.3516],[0.0799,0.3516],[0.08096,0.3545],[0.08203,0.3545],[0.08309,0.3545],[0.08415,0.3545],[0.08522,0.3545],[0.08628,0.3545],[0.08734,0.3545],[0.08841,0.3545],[0.08947,0.3545],[0.09053,0.3545],[0.0916,0.3545],[0.09266,0.3545],[0.09372,0.3545],[0.09487,0.3545],[0.09593,0.3545],[0.097,0.3545],[0.09815,0.3497],[0.09921,0.3497],[0.10028,0.3497],[0.10152,0.3529],[0.10258,0.3494],[0.10364,0.3494],[0.1047,0.3494],[0.10586,0.3426],[0.10692,0.3421],[0.10798,0.3421]];
const d_no3_fit = [[0.00133,0.2774,0.0045],[0.00496,0.2847,0.003],[0.00939,0.2927,0.0021],[0.01382,0.301,0.0019],[0.01825,0.3097,0.0018],[0.02268,0.3184,0.0018],[0.02711,0.3268,0.0017],[0.03154,0.3348,0.0017],[0.03596,0.3414,0.0017],[0.0395,0.3463,0.0018],[0.04305,0.3484,0.0019],[0.04659,0.3494,0.002],[0.05102,0.3501,0.0021],[0.05545,0.3508,0.0021],[0.05988,0.3509,0.002],[0.06431,0.3504,0.0017],[0.06785,0.3504,0.0016],[0.0714,0.3511,0.0016],[0.0776,0.3522,0.0018],[0.08203,0.3525,0.0018],[0.08734,0.3523,0.0018],[0.09266,0.3518,0.002],[0.09797,0.3508,0.0026],[0.10329,0.349,0.0035],[0.10798,0.3473,0.0046]];

// ---------- data: J' (row 4) ----------
const j_temp = [[3.64,0.498],[3.89,0.4962],[4.14,0.495],[4.39,0.4742],[4.64,0.478],[4.89,0.4767],[5.18,0.4795],[5.43,0.4795],[5.68,0.4795],[5.93,0.4795],[6.17,0.4795],[6.42,0.4795],[6.67,0.4795],[6.92,0.4795],[7.17,0.4795],[7.51,0.4806],[7.75,0.4808],[8.0,0.4808],[8.25,0.4808],[8.5,0.4808],[8.75,0.4808],[9.0,0.4808],[9.25,0.4808],[9.5,0.4808],[9.75,0.4808],[10.0,0.4806],[10.25,0.4798],[10.54,0.4815],[10.79,0.4702],[11.08,0.4679],[11.33,0.4654],[11.5,0.4654],[11.83,0.4617],[12.08,0.4617],[12.33,0.4621],[12.58,0.4617],[12.83,0.4614],[13.08,0.4614],[13.33,0.4621],[13.58,0.4623],[13.83,0.4627],[14.12,0.4608],[14.37,0.4608],[14.62,0.4633],[14.86,0.4633],[15.11,0.4633],[15.36,0.4637],[15.61,0.4646],[15.86,0.4646],[16.15,0.4621],[16.4,0.4614],[16.65,0.4624],[16.94,0.4633],[17.19,0.4633],[17.44,0.4629],[17.69,0.4646],[17.94,0.4652],[18.23,0.4489],[18.48,0.4445],[18.73,0.4433],[18.98,0.4405],[19.27,0.4485],[19.52,0.4485],[19.77,0.4485],[20.02,0.4485],[20.27,0.4485],[20.52,0.447],[20.77,0.447],[21.06,0.4442],[21.31,0.4458],[21.56,0.4464],[21.81,0.4464],[22.06,0.4464],[22.31,0.4464],[22.6,0.437],[22.85,0.4354],[23.1,0.4354],[23.35,0.4354],[23.6,0.4373],[23.89,0.4439],[24.14,0.4477],[24.39,0.4477],[24.64,0.4477],[24.89,0.4477],[25.13,0.4458],[25.43,0.4349],[25.68,0.4349],[25.93,0.4349],[26.17,0.4349],[26.42,0.4349],[26.67,0.4349],[26.92,0.4341],[27.17,0.4341],[27.42,0.4341],[27.67,0.4333],[27.92,0.4248],[28.21,0.4038],[28.46,0.3675],[28.75,0.351],[28.96,0.3513]];
const j_temp_fit = [[3.64,0.4875,0.0069],[5.63,0.484,0.004],[7.3,0.4802,0.0025],[8.96,0.4765,0.0019],[10.62,0.4721,0.0019],[12.29,0.4677,0.0019],[13.95,0.4629,0.002],[15.61,0.4589,0.0022],[17.28,0.4552,0.0023],[18.94,0.4514,0.0024],[20.19,0.4492,0.0025],[21.43,0.4483,0.0028],[22.27,0.4464,0.003],[23.1,0.4414,0.003],[24.35,0.4351,0.003],[25.59,0.4264,0.003],[26.84,0.4176,0.0035],[28.09,0.4063,0.005],[28.92,0.3957,0.0073]];

const j_no3 = [[0.00124,0.4837],[0.00231,0.4587],[0.00337,0.4846],[0.00444,0.483],[0.0055,0.483],[0.00657,0.4861],[0.00763,0.4837],[0.0087,0.4764],[0.00994,0.47],[0.011,0.4696],[0.01207,0.4691],[0.01314,0.4684],[0.0142,0.4677],[0.01527,0.4665],[0.01633,0.4538],[0.0174,0.4541],[0.01846,0.4635],[0.01971,0.4686],[0.02077,0.4757],[0.02184,0.4823],[0.0229,0.481],[0.02397,0.4858],[0.02503,0.5065],[0.02627,0.5121],[0.02734,0.5157],[0.0284,0.5154],[0.02947,0.5154],[0.03053,0.5154],[0.0316,0.5142],[0.03266,0.5176],[0.03373,0.5189],[0.0348,0.5189],[0.03586,0.5189],[0.03693,0.5189],[0.03799,0.5292],[0.03906,0.5304],[0.04012,0.5297],[0.04119,0.5308],[0.04225,0.5308],[0.04332,0.5308],[0.04438,0.5322],[0.04545,0.5322],[0.04651,0.5322],[0.04758,0.5322],[0.04864,0.5322],[0.04971,0.5322],[0.05077,0.5322],[0.05184,0.5322],[0.0529,0.5322],[0.05397,0.5322],[0.05521,0.5305],[0.05628,0.5303],[0.05734,0.5301],[0.05841,0.5301],[0.05947,0.5301],[0.06054,0.5289],[0.0616,0.5289],[0.06267,0.5289],[0.06373,0.5289],[0.0648,0.5289],[0.06604,0.5294],[0.0671,0.5294],[0.06817,0.5294],[0.06923,0.5294],[0.0703,0.5294],[0.07136,0.5294],[0.07243,0.5294],[0.0735,0.5294],[0.07474,0.5289],[0.0758,0.5289],[0.07687,0.5289],[0.07793,0.5289],[0.08006,0.5269],[0.08131,0.5291],[0.08237,0.5291],[0.08344,0.5291],[0.0845,0.5291],[0.08557,0.5291],[0.08663,0.5291],[0.08788,0.5285],[0.09,0.525],[0.09107,0.525],[0.09213,0.525],[0.0932,0.525],[0.09426,0.525],[0.09533,0.525],[0.09639,0.525],[0.09746,0.525],[0.09852,0.525],[0.09959,0.525],[0.10065,0.525],[0.10172,0.525],[0.10296,0.5199],[0.10403,0.5199],[0.10509,0.5199],[0.10616,0.5097],[0.10722,0.5097],[0.10829,0.5097]];
const j_no3_fit = [[0.00124,0.4614,0.0069],[0.00621,0.4726,0.0045],[0.01154,0.4832,0.0032],[0.01687,0.4923,0.0027],[0.02219,0.5015,0.0025],[0.02752,0.5113,0.0025],[0.03284,0.5204,0.0025],[0.03817,0.5282,0.0027],[0.04349,0.5313,0.0028],[0.04882,0.532,0.0028],[0.05415,0.5324,0.0029],[0.0577,0.5318,0.003],[0.06302,0.5303,0.0031],[0.06835,0.5296,0.0032],[0.07367,0.5292,0.0032],[0.079,0.5285,0.003],[0.08433,0.5271,0.0028],[0.08966,0.525,0.0028],[0.09498,0.5225,0.0032],[0.10031,0.5201,0.0042],[0.10386,0.5183,0.0053],[0.10829,0.5155,0.0069]];

const j_mz = [[5.422,0.6523],[5.436,0.6523],[5.451,0.6523],[5.466,0.6523],[5.48,0.648],[5.495,0.648],[5.51,0.648],[5.524,0.648],[5.539,0.648],[5.556,0.6475],[5.571,0.6469],[5.586,0.6469],[5.6,0.6371],[5.615,0.6357],[5.63,0.6357],[5.644,0.6357],[5.659,0.6371],[5.679,0.5771],[5.693,0.5771],[5.708,0.5771],[5.723,0.5771],[5.74,0.5727],[5.754,0.5727],[5.769,0.5727],[5.784,0.5727],[5.799,0.5727],[5.813,0.5727],[5.828,0.5727],[5.843,0.5727],[5.857,0.5727],[5.874,0.5742],[5.889,0.5719],[5.904,0.5719],[5.918,0.5713],[5.936,0.5693],[5.95,0.568],[5.965,0.568],[5.98,0.568],[5.994,0.568],[6.011,0.5484],[6.026,0.5439],[6.041,0.5439],[6.055,0.5439],[6.07,0.5439],[6.09,0.5006],[6.104,0.5],[6.119,0.4824],[6.136,0.4605],[6.151,0.4605],[6.166,0.4605],[6.185,0.4658],[6.202,0.4682],[6.217,0.4682],[6.232,0.4682],[6.249,0.4645],[6.263,0.4633],[6.278,0.4629],[6.293,0.4629],[6.307,0.4629],[6.325,0.4645],[6.339,0.4645],[6.354,0.4645],[6.369,0.4645],[6.383,0.4645],[6.398,0.4623],[6.413,0.4619],[6.427,0.4619],[6.442,0.4619],[6.457,0.4619],[6.474,0.459],[6.489,0.459],[6.503,0.459],[6.518,0.459],[6.535,0.4619],[6.55,0.4623],[6.564,0.4623],[6.579,0.4613],[6.594,0.4613],[6.608,0.4613],[6.623,0.4596],[6.638,0.4629],[6.655,0.4672],[6.67,0.4662],[6.684,0.4645],[6.699,0.4635],[6.714,0.4605],[6.728,0.4605],[6.743,0.4605],[6.758,0.4605],[6.772,0.4605],[6.792,0.4635],[6.807,0.4473],[6.821,0.4473],[6.836,0.4473],[6.853,0.4498],[6.868,0.4447],[6.882,0.4447],[6.897,0.4447],[6.912,0.4447],[6.926,0.4447]];
const j_mz_fit = [[5.422,0.6617,0.0098],[5.5,0.6543,0.007],[5.598,0.6328,0.0038],[5.696,0.6133,0.0035],[5.794,0.5898,0.0035],[5.867,0.5703,0.0035],[5.94,0.5527,0.0035],[6.014,0.5332,0.0035],[6.087,0.5098,0.0036],[6.161,0.4883,0.0037],[6.234,0.4727,0.0038],[6.307,0.4629,0.0039],[6.381,0.457,0.0039],[6.454,0.4555,0.0039],[6.528,0.4551,0.0039],[6.577,0.4535,0.0039],[6.674,0.4527,0.0042],[6.772,0.4527,0.0055],[6.87,0.4531,0.008],[6.931,0.4541,0.0117]];

const j_ph = [[8.3604,0.479],[8.3639,0.479],[8.3674,0.479],[8.372,0.468],[8.3755,0.468],[8.379,0.468],[8.3825,0.468],[8.386,0.468],[8.3895,0.468],[8.3936,0.4561],[8.3971,0.4565],[8.4006,0.4568],[8.4041,0.4568],[8.4076,0.4568],[8.4111,0.457],[8.4146,0.457],[8.4216,0.4585],[8.4256,0.4577],[8.4291,0.4577],[8.4326,0.4577],[8.4361,0.4574],[8.4396,0.4574],[8.4431,0.4574],[8.4466,0.4574],[8.4501,0.4574],[8.4536,0.457],[8.4577,0.4557],[8.4612,0.4557],[8.4647,0.4557],[8.4682,0.4557],[8.4728,0.4603],[8.4763,0.4603],[8.4798,0.4603],[8.4833,0.4603],[8.4874,0.4611],[8.4909,0.4614],[8.4944,0.4618],[8.4979,0.4618],[8.5014,0.4623],[8.5049,0.4623],[8.5083,0.4623],[8.5118,0.4623],[8.5153,0.4623],[8.5188,0.4623],[8.5229,0.4634],[8.5264,0.4634],[8.5299,0.4634],[8.5334,0.4634],[8.5369,0.4634],[8.5404,0.4637],[8.5439,0.4637],[8.5474,0.4641],[8.552,0.4621],[8.5555,0.4621],[8.559,0.4621],[8.5625,0.4621],[8.566,0.4621],[8.5707,0.466],[8.5742,0.466],[8.5777,0.466],[8.5812,0.466],[8.5847,0.466],[8.5882,0.4663],[8.5922,0.4694],[8.5957,0.4667],[8.5992,0.4664],[8.6027,0.4664],[8.6062,0.4664],[8.6097,0.4664],[8.6132,0.4664],[8.6179,0.468],[8.6214,0.4684],[8.6249,0.4641],[8.6283,0.4641],[8.6324,0.4656],[8.6359,0.4756],[8.6394,0.4756],[8.6429,0.4777],[8.647,0.4786],[8.6505,0.4786],[8.654,0.479],[8.6575,0.4836],[8.661,0.4836],[8.6645,0.484],[8.668,0.484],[8.6715,0.487],[8.6761,0.4843],[8.6796,0.4843],[8.6849,0.4782],[8.6866,0.4782],[8.6907,0.4718],[8.6936,0.4718],[8.6988,0.4623],[8.7023,0.4623],[8.7058,0.4623],[8.7093,0.4623],[8.7128,0.4623],[8.7169,0.3308],[8.7198,0.3308]];
const j_ph_fit = [[8.3604,0.4724,0.0126],[8.379,0.4687,0.009],[8.4023,0.4631,0.0065],[8.4256,0.4597,0.005],[8.4489,0.4581,0.0046],[8.4664,0.4584,0.0045],[8.4839,0.4601,0.0045],[8.5072,0.4618,0.0045],[8.5305,0.4631,0.0045],[8.5538,0.4641,0.0046],[8.5771,0.4647,0.005],[8.5887,0.4663,0.0053],[8.6004,0.47,0.0056],[8.612,0.4733,0.0058],[8.6249,0.4743,0.006],[8.6412,0.472,0.0068],[8.6586,0.4674,0.008],[8.6761,0.4607,0.0095],[8.6936,0.4501,0.011],[8.7052,0.4408,0.012],[8.7198,0.4302,0.0133]];

const j_do = [[5.063,0.4298],[5.133,0.4298],[5.203,0.4366],[5.273,0.4287],[5.344,0.4287],[5.414,0.4287],[5.484,0.4287],[5.555,0.4257],[5.625,0.4257],[5.695,0.4267],[5.766,0.4267],[5.836,0.4267],[5.906,0.4267],[5.982,0.4343],[6.059,0.4619],[6.129,0.4637],[6.199,0.4628],[6.27,0.4681],[6.34,0.5203],[6.41,0.5203],[6.48,0.5157],[6.551,0.5164],[6.627,0.5192],[6.697,0.5224],[6.768,0.5224],[6.838,0.5392],[6.908,0.5399],[6.984,0.5464],[7.055,0.5457],[7.125,0.5472],[7.195,0.5413],[7.271,0.5374],[7.342,0.5427],[7.412,0.5396],[7.482,0.5051],[7.553,0.5036],[7.623,0.4809],[7.693,0.4829],[7.77,0.4782],[7.84,0.466],[7.91,0.4653],[7.98,0.4653],[8.051,0.4674],[8.121,0.4685],[8.191,0.4685],[8.262,0.4685],[8.338,0.4688],[8.408,0.4633],[8.478,0.4633],[8.549,0.4633],[8.619,0.4591],[8.689,0.4591],[8.76,0.4594],[8.836,0.4635],[8.906,0.4649],[8.977,0.4635],[9.047,0.4635],[9.117,0.4635],[9.188,0.4635],[9.258,0.4635],[9.328,0.4635],[9.398,0.4635],[9.469,0.4635],[9.539,0.4635],[9.609,0.4635],[9.68,0.4635],[9.75,0.4635],[9.826,0.4646],[9.896,0.4646],[9.967,0.4646],[10.037,0.4644],[10.113,0.4637],[10.184,0.464],[10.254,0.4642],[10.324,0.4642],[10.394,0.4642],[10.465,0.4642],[10.535,0.4642],[10.605,0.4642],[10.688,0.4692],[10.758,0.4704],[10.828,0.4637],[10.898,0.4584],[10.969,0.4584],[11.039,0.4605],[11.109,0.4605],[11.185,0.4595],[11.256,0.4584],[11.326,0.457],[11.396,0.4525],[11.467,0.4349],[11.537,0.4349],[11.607,0.4349],[11.678,0.4349],[11.748,0.4349],[11.818,0.4349],[11.889,0.4349],[11.959,0.4349],[12.029,0.4349],[12.1,0.4349]];
const j_do_fit = [[5.063,0.399,0.0145],[5.238,0.4163,0.01],[5.414,0.4315,0.0075],[5.59,0.4474,0.0062],[5.824,0.466,0.006],[6.059,0.4798,0.006],[6.293,0.4895,0.0062],[6.527,0.4978,0.0065],[6.762,0.504,0.0068],[6.996,0.5064,0.0069],[7.23,0.5064,0.0069],[7.465,0.5047,0.0068],[7.699,0.5012,0.0065],[7.875,0.4964,0.006],[8.051,0.4867,0.0055],[8.227,0.4771,0.005],[8.402,0.4688,0.0045],[8.637,0.4639,0.004],[8.93,0.4626,0.0039],[9.223,0.4626,0.0039],[9.516,0.4624,0.0039],[9.809,0.4622,0.0039],[10.102,0.4623,0.004],[10.395,0.4612,0.0041],[10.688,0.4584,0.0042],[10.98,0.4552,0.0045],[11.273,0.4508,0.005],[11.566,0.4439,0.0065],[11.859,0.4377,0.009],[12.111,0.4336,0.0138]];

// ---------- labels, ticks, domains ----------
const rowLabels = ["S", "H\u2019", "D\u2019", "J\u2019"];

const T_DO = "DO", T_TEMP = "Temperature", T_PHYTO = "Phytoplankton cell", T_SAL = "Salinity", T_MZ = "Mz", T_PH = "Sediment pH";
const T_PO4 = [["PO", ""], ["4", "sub"], ["3-", "sup"], ["-P", ""]];
const T_NO3 = [["NO", ""], ["3", "sub"], ["-", "sup"], ["-N", ""]];

const X_DO = ["6", "8", "10", "12"], X_TEMP = ["10", "20", "30"], X_PHYTO = ["0", "1000", "2000", "3000", "4000", "5000"];
const X_PO4 = ["0.000", "0.005", "0.010", "0.015"], X_SAL = ["31.8", "32.0", "32.2"], X_MZ = ["5.5", "6.0", "6.5", "7.0"];
const X_NO3 = ["0.00", "0.03", "0.06", "0.09"], X_PH = ["8.4", "8.5", "8.6", "8.7"];

// one entry per panel, row by row: points, fit, x title, x ticks, y ticks, x domain, y domain
const panels = [
  [s_do, s_do_fit, T_DO, X_DO, ["3.0", "3.5", "4.0"], [4.712, 12.418], [2.589, 4.350]],
  [s_temp, s_temp_fit, T_TEMP, X_TEMP, ["2.4", "2.7", "3.0", "3.3", "3.6"], [2.31, 30.36], [2.391, 3.666]],
  [s_phyto, s_phyto_fit, T_PHYTO, X_PHYTO, ["3.00", "3.25", "3.50", "3.75", "4.00"], [-167, 5099], [2.978, 4.101]],
  [s_po4, s_po4_fit, T_PO4, X_PO4, ["3.0", "3.3", "3.6", "3.9"], [-0.000467, 0.01885], [3.0, 4.117]],
  [s_sal, s_sal_fit, T_SAL, X_SAL, ["3.25", "3.50", "3.75", "4.00"], [31.634, 32.267], [3.092, 4.245]],

  [h_temp, h_temp_fit, T_TEMP, X_TEMP, ["0.4", "0.5", "0.6"], [2.366, 30.2], [0.3333, 0.6784]],
  [h_phyto, h_phyto_fit, T_PHYTO, X_PHYTO, ["0.50", "0.55", "0.60", "0.65"], [-168, 5114], [0.4988, 0.6848]],
  [h_sal, h_sal_fit, T_SAL, X_SAL, ["0.525", "0.550", "0.575", "0.600"], [31.632, 32.268], [0.5068, 0.6066]],
  [h_mz, h_mz_fit, T_MZ, X_MZ, ["0.55", "0.60", "0.65", "0.70", "0.75"], [5.344, 7.005], [0.5046, 0.7495]],
  [h_no3, h_no3_fit, T_NO3, X_NO3, ["0.55", "0.60", "0.65"], [-0.00398, 0.1129], [0.505, 0.6805]],

  [d_temp, d_temp_fit, T_TEMP, X_TEMP, ["0.20", "0.25", "0.30", "0.35"], [2.394, 30.16], [0.1903, 0.3847]],
  [d_sal, d_sal_fit, T_SAL, X_SAL, ["0.28", "0.30", "0.32"], [31.632, 32.27], [0.2753, 0.3396]],
  [d_phyto, d_phyto_fit, T_PHYTO, X_PHYTO, ["0.28", "0.30", "0.32", "0.34"], [-167, 5099], [0.2784, 0.3415]],
  [d_mz, d_mz_fit, T_MZ, X_MZ, ["0.28", "0.32", "0.36", "0.40"], [5.346, 7.005], [0.2757, 0.4243]],
  [d_no3, d_no3_fit, T_NO3, X_NO3, ["0.28", "0.30", "0.32", "0.34"], [-0.00398, 0.1129], [0.2685, 0.3587]],

  [j_temp, j_temp_fit, T_TEMP, X_TEMP, ["0.35", "0.40", "0.45", "0.50"], [2.394, 30.16], [0.3439, 0.505]],
  [j_no3, j_no3_fit, T_NO3, X_NO3, ["0.450", "0.475", "0.500", "0.525"], [-0.0043, 0.1135], [0.4496, 0.54]],
  [j_mz, j_mz_fit, T_MZ, X_MZ, ["0.45", "0.50", "0.55", "0.60", "0.65"], [5.345, 7.005], [0.4299, 0.6813]],
  [j_ph, j_ph_fit, T_PH, X_PH, ["0.35", "0.40", "0.45"], [8.342, 8.737], [0.3217, 0.4923]],
  [j_do, j_do_fit, T_DO, X_DO, ["0.40", "0.45", "0.50", "0.55"], [4.706, 12.44], [0.3764, 0.5542]]
];

// ---------- layout (pixels) ----------
const W = 3971, H = 2228;
const rowTop = [4, 560, 1118, 1680], rowBottom = [467, 1024, 1581, 2142];
const colLeft = [[157, 933, 1719, 2484, 3270], [157, 944, 1729, 2494, 3270], [167, 943, 1719, 2495, 3270], [167, 951, 1719, 2495, 3270]];
const colRight = [857, 1637, 2411, 3187, 3961];
const titleX = [[489, 1315, 2112, 2876, 3627], [516, 1347, 2102, 2839, 3625], [516, 1332, 2112, 2818, 3625], [500, 1319, 2090, 2830, 3642]];
const titleY = [536, 1089, 1651, 2212];
const rowLabelY = [228, 820, 1377, 1939];
const tickFont = [18, 18, 18, 18, 20];

const svg = d3.select("#chart").append("svg").attr("width", W).attr("height", H).attr("viewBox", `0 0 ${W} ${H}`);
svg.append("rect").attr("width", W).attr("height", H).attr("fill", "#fff");
const defs = svg.append("defs");

panels.forEach((p, i) => {
  const [pts, fit, title, xt, yt, xd, yd] = p;
  const r = Math.floor(i / 5), c = i % 5;
  const L = colLeft[r][c], R = colRight[c], T = rowTop[r], B = rowBottom[r];

  const x = d3.scaleLinear().domain(xd).range([L, R]);
  const y = d3.scaleLinear().domain(yd).range([B, T]);

  defs.append("clipPath").attr("id", "clip" + i)
    .append("rect").attr("x", L - 100).attr("y", T - 20).attr("width", R - L + 106).attr("height", B - T + 70);

  const g = svg.append("g").attr("clip-path", `url(#clip${i})`);

  // points
  g.append("g").selectAll("circle").data(pts).join("circle")
    .attr("cx", d => x(d[0])).attr("cy", d => y(d[1])).attr("r", 3.4).attr("fill", "#000");

  // confidence band + smooth
  const curve = d3.curveCatmullRom.alpha(0.5);
  g.append("path").datum(fit)
    .attr("d", d3.area().x(d => x(d[0])).y0(d => y(d[1] - d[2])).y1(d => y(d[1] + d[2])).curve(curve))
    .attr("fill", "#999999").attr("fill-opacity", 0.4);
  g.append("path").datum(fit)
    .attr("d", d3.line().x(d => x(d[0])).y(d => y(d[1])).curve(curve))
    .attr("fill", "none").attr("stroke", "#3366FF").attr("stroke-width", 3);

  // axes
  const fs = tickFont[c];
  g.append("g").attr("class", "axis").attr("transform", `translate(0,${B})`)
    .call(d3.axisBottom(x).tickValues(xt.map(Number)).tickFormat((d, k) => xt[k]).tickSizeOuter(0).tickSize(5).tickPadding(5))
    .attr("font-size", fs).attr("font-family", null);
  g.append("g").attr("class", "axis").attr("transform", `translate(${L},0)`)
    .call(d3.axisLeft(y).tickValues(yt.map(Number)).tickFormat((d, k) => yt[k]).tickSizeOuter(0).tickSize(5).tickPadding(4))
    .attr("font-size", fs).attr("font-family", null);

  // x title
  const tx = svg.append("text").attr("class", "xtitle").attr("x", titleX[r][c]).attr("y", titleY[r])
    .attr("text-anchor", "middle").attr("font-size", 37);
  if (typeof title === "string") {
    tx.text(title);
  } else {
    let shift = 0;
    title.forEach(([s, k]) => {
      const target = k === "sub" ? 10 : k === "sup" ? -15 : 0;
      tx.append("tspan").attr("dy", target - shift).attr("font-size", k ? 26 : 37).text(s);
      shift = target;
    });
  }
});

// row labels
svg.selectAll(".rowlab").data(rowLabels).join("text")
  .attr("class", "rowlab").attr("x", 4).attr("y", (d, i) => rowLabelY[i])
  .attr("font-size", 45).text(d => d);
</script>
</body>
</html>
